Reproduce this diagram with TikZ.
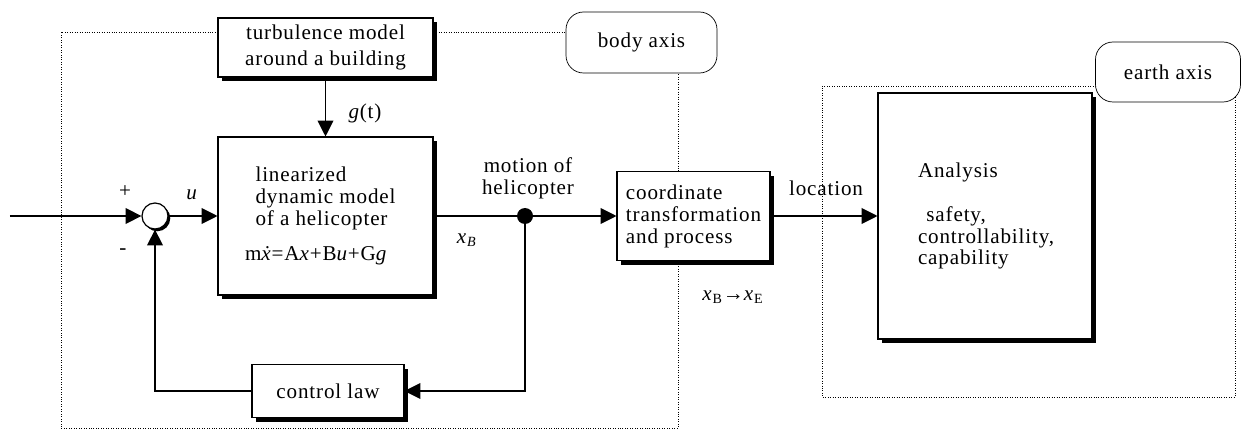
\documentclass[tikz,border=0pt]{standalone}
\usepackage{fontspec}
\setmainfont{Liberation Serif}[LetterSpace=4]
\usepackage{tikz}
\usetikzlibrary{arrows.meta,shadows}

\begin{document}
\begin{tikzpicture}[
	font=\fontsize{12}{12.5}\selectfont,
	>={Triangle[length=9pt,width=9pt]},
	block/.style={rectangle,draw=black,fill=white,line width=0.6pt,inner sep=0pt,
		drop shadow={shadow xshift=2.4pt,shadow yshift=-2.4pt,fill=black,opacity=1}},
	sumnode/.style={circle,draw=black,fill=white,line width=0.7pt,minimum size=0.52cm,inner sep=0pt,
		drop shadow={shadow xshift=1.3pt,shadow yshift=-1.3pt,fill=black,opacity=1}},
	dotnode/.style={circle,fill=black,minimum size=0.32cm,inner sep=0pt},
	axisbox/.style={rectangle,rounded corners=0.35cm,draw=black,fill=white,thin},
	frame/.style={densely dotted,thin},
	wire/.style={line width=0.6pt}
	]
	\useasboundingbox (0,0) rectangle (24.82,8.8);

	% dotted frames, drawn first so the boxes cover them
	\draw[frame] (13.56,7.95) -- (13.56,0.24) -- (1.22,0.24) -- (1.22,8.16) -- (12.83,8.16);
	\draw[frame] (23.34,7.08) -- (16.44,7.08) -- (16.44,0.86) -- (24.70,0.86) -- (24.70,7.36);

	\node[axisbox,minimum width=3.02cm,minimum height=1.22cm] (bodyaxis) at (12.83,7.95) {body axis};
	\node[axisbox,minimum width=2.9cm,minimum height=1.2cm] (earthaxis) at (23.36,7.36) {earth axis};

	% blocks
	\node[block,minimum width=4.3cm,minimum height=1.18cm,align=center] (turb) at (6.51,7.85)
		{turbulence model\\[2.5pt]around a building};
	\node[block,minimum width=4.3cm,minimum height=3.16cm,align=left] (dyn) at (6.51,4.48)
		{linearized\\dynamic model\\of a helicopter\\[0.6\baselineskip]
		\hspace*{-6pt}m\textit{\.{x}}=A\textit{x}+B\textit{u}+G\textit{g}};
	\node[block,minimum width=3.04cm,minimum height=1.06cm] (law) at (6.56,0.98) {control law};
	\node[block,minimum width=3.06cm,minimum height=1.78cm,align=left] (coord) at (13.87,4.48)
		{coordinate\\transformation\\and process};
	\node[block,minimum width=4.28cm,minimum height=4.92cm,align=left,text width=2.68cm] (anal) at (19.70,4.48)
		{Analysis\\[\baselineskip]
		\hspace*{0.4em}safety,\\controllability,\\capability};

	\node[sumnode] (sum) at (3.10,4.48) {};
	\node[dotnode] (dot) at (10.50,4.48) {};
	\coordinate (in) at (0.2,4.48);

	% signal lines
	\draw[wire,->] (in) -- (sum.west);
	\draw[wire,->] (sum.east) -- (sum.east -| dyn.west);
	\draw[wire,->] (turb.south) -- (dyn.north);
	\draw[wire] (dyn.east |- dot) -- (dot);
	\draw[wire,->] (dot) -- (coord.west |- dot);
	\draw[wire,->] (dot) |- (law.east);
	\draw[wire,->] (law.west) -| (sum.south);
	\draw[wire,->] (coord.east) -- (anal.west);

	% labels
	\node (plus) at (2.50,4.96) {+};
	\node (minus) at (2.46,3.76) {-};
	\node (ulbl) at (3.84,4.90) {\textit{u}};
	\node (glbl) at (7.30,6.54) {\textit{g}(t)};
	\node (xblbl) at (9.34,4.00) {\textit{x}\textsubscript{\textit{B}}};
	\node[align=center] (motion) at (10.56,5.24) {motion of\\helicopter};
	\node (xbe) at (14.66,2.86) {\textit{x}\textsubscript{B}→\textit{x}\textsubscript{E}};
	\node (loc) at (16.52,5.04) {location};
\end{tikzpicture}
\end{document}
